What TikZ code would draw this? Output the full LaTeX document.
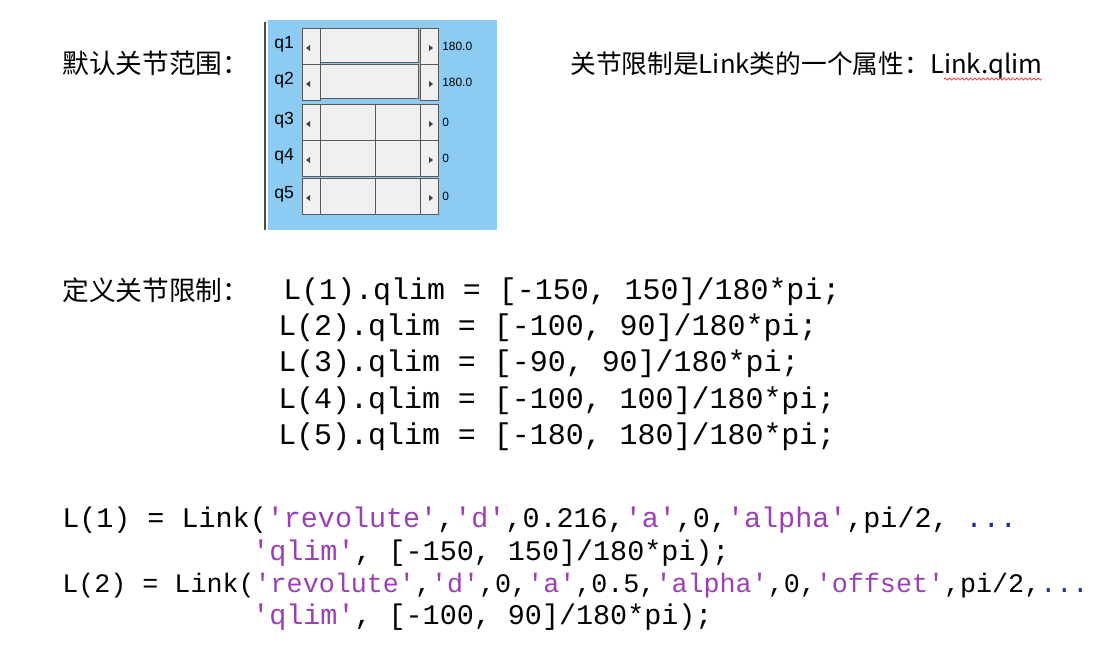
\documentclass[tikz,border=0pt]{standalone}
\usepackage{fontspec}
\setmainfont{Liberation Sans}
\setmonofont{Liberation Mono}
\newfontfamily\cjk{Noto Sans CJK SC}
\usetikzlibrary{decorations.pathmorphing}
\definecolor{panelblue}{HTML}{8CCBF2}
\definecolor{btngray}{HTML}{F0F0F0}
\definecolor{strpurple}{HTML}{9A3FB5}
\definecolor{dotblue}{HTML}{1A2A9A}
\newcommand{\str}[1]{\textcolor{strpurple}{#1}}
\tikzset{
  label/.style={anchor=base west,inner sep=0pt,font=\cjk\fontsize{19pt}{21pt}\selectfont},
  codeA/.style={anchor=base west,inner sep=0pt,font=\ttfamily\fontsize{21.3pt}{24pt}\selectfont},
  codeB/.style={anchor=base west,inner sep=0pt,font=\ttfamily\fontsize{20.2pt}{24pt}\selectfont},
  btn/.style={draw=gray!70!black,fill=btngray,line width=0.6pt},
  qlab/.style={anchor=west,inner sep=0pt,font=\fontsize{12.5pt}{13pt}\selectfont},
  qval/.style={anchor=west,inner sep=0pt,font=\fontsize{8.5pt}{9pt}\selectfont}
}
\begin{document}
\begin{tikzpicture}[x=0.025cm,y=-0.025cm]
      \useasboundingbox[fill=white] (0,0) rectangle (1115,644);
      %%%% header texts
      \node[label] (deflab) at (62,73) {默认关节范围：};
      \node[label,font=\cjk\fontsize{18.3pt}{21pt}\selectfont] (proplab) at (570,73) {关节限制是Link类的一个属性：Link.qlim};
      \draw[red!80,line width=0.5pt,decorate,decoration={snake,amplitude=0.8pt,segment length=3pt}]
        (944,79) -- (1042,79);
      %%%% slider panel
      \fill[panelblue] (268,20) rectangle (497,230);
      \draw[gray!60!black,line width=1.2pt] (265,22) -- (265,230);
      \foreach \q/\y/\v/\full in {1/46/180.0/1,2/82/180.0/1,3/122/0/0,4/158/0/0,5/196/0/0}{
        \node[qlab] (q\q) at (274,\y-2) {q\q};
        \draw[btn] (302,\y-18) rectangle (320,\y+18);
        \draw[btn] (420,\y-18) rectangle (438,\y+18);
        \ifnum\full=1
          \draw[btn] (320,\y-18) rectangle (418,\y+16);
        \else
          \draw[btn] (320,\y-18) rectangle (375,\y+18);
          \draw[btn] (375,\y-18) rectangle (420,\y+18);
        \fi
        \fill[gray!50!black] (306,\y+2) -- (310,\y-1) -- (310,\y+5) -- cycle;
        \fill[gray!50!black] (433,\y+2) -- (429,\y-1) -- (429,\y+5) -- cycle;
        \node[qval] (v\q) at (442,\y) {\v};
      }
      %%%% qlim definitions
      \node[label] (deflim) at (62,300) {定义关节限制：};
      \node[codeA] (c1) at (283,299) {L(1).qlim = [-150, 150]/180*pi;};
      \node[codeA] (c2) at (278,335) {L(2).qlim = [-100, 90]/180*pi;};
      \node[codeA] (c3) at (278,371) {L(3).qlim = [-90, 90]/180*pi;};
      \node[codeA] (c4) at (278,408) {L(4).qlim = [-100, 100]/180*pi;};
      \node[codeA] (c5) at (278,444) {L(5).qlim = [-180, 180]/180*pi;};
      %%%% Link constructor
      \node[codeB] (l1) at (62,527) {L(1) = Link(\str{'revolute'},\str{'d'},0.216,\str{'a'},0,\str{'alpha'},pi/2, \textcolor{dotblue}{...}};
      \node[codeB] (l1b) at (252,560) {\str{'qlim'}, [-150, 150]/180*pi);};
      \node[codeB,font=\ttfamily\fontsize{19pt}{24pt}\selectfont] (l2) at (62,592) {L(2) = Link(\str{'revolute'},\str{'d'},0,\str{'a'},0.5,\str{'alpha'},0,\str{'offset'},pi/2,\textcolor{dotblue}{...}};
      \node[codeB] (l2b) at (252,624) {\str{'qlim'}, [-100, 90]/180*pi);};
\end{tikzpicture}
\end{document}
